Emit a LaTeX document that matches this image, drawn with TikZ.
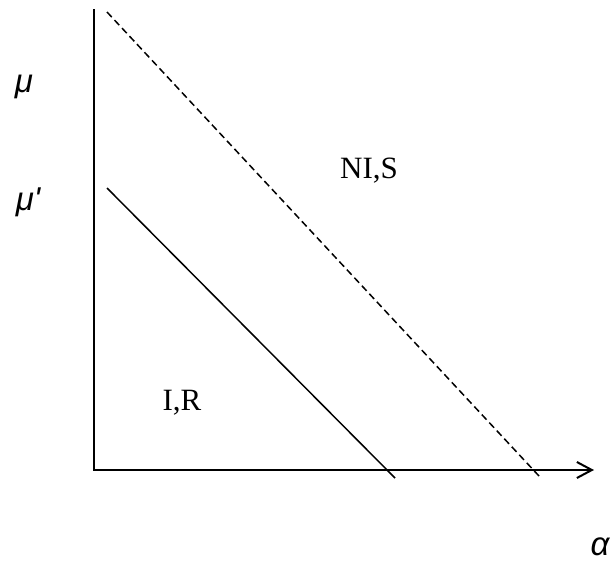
\documentclass[tikz,border=0pt]{standalone}
\usepackage{fontspec}
\setmainfont{Liberation Serif}
\newfontfamily\greekfont{Liberation Sans}
\usetikzlibrary{arrows.meta}

\begin{document}
\begin{tikzpicture}[
				x=1pt,y=-1pt,
				every node/.style={inner sep=0pt,anchor=base},
				region/.style={font=\fontsize{31}{36}\selectfont},
				sym/.style={font=\greekfont\itshape\fontsize{33}{38}\selectfont},
				axis/.style={line width=2pt,line cap=rect},
				bound/.style={line width=1.5pt},
				hull/.style={line width=1.5pt,dash pattern=on 7pt off 4pt}]

				\useasboundingbox (0,0) rectangle (614,566);

				% axes
				\coordinate (o) at (94,470);
				\coordinate (ytop) at (94,10);
				\coordinate (xend) at (594,470);
				\draw[axis] (ytop) -- (o);
				\draw[axis,-{Straight Barb[length=15pt,width=16pt,line width=2pt]}] (o) -- (xend);

				% boundaries
				\coordinate (s0) at (107,188);
				\coordinate (s1) at (395,478);
				\coordinate (d0) at (107,12);
				\coordinate (d1) at (539,476);
				\draw[bound] (s0) -- (s1);
				\draw[hull] (d0) -- (d1);

				% labels
				\node[sym] (mu) at (24,92) {μ};
				\node[sym] (mup) at (28,210) {μ'};
				\node[sym] (alpha) at (600,555) {α};
				\node[region] (nis) at (369,178) {NI,S};
				\node[region] (ir) at (182,410) {I,R};
			\end{tikzpicture}
\end{document}
